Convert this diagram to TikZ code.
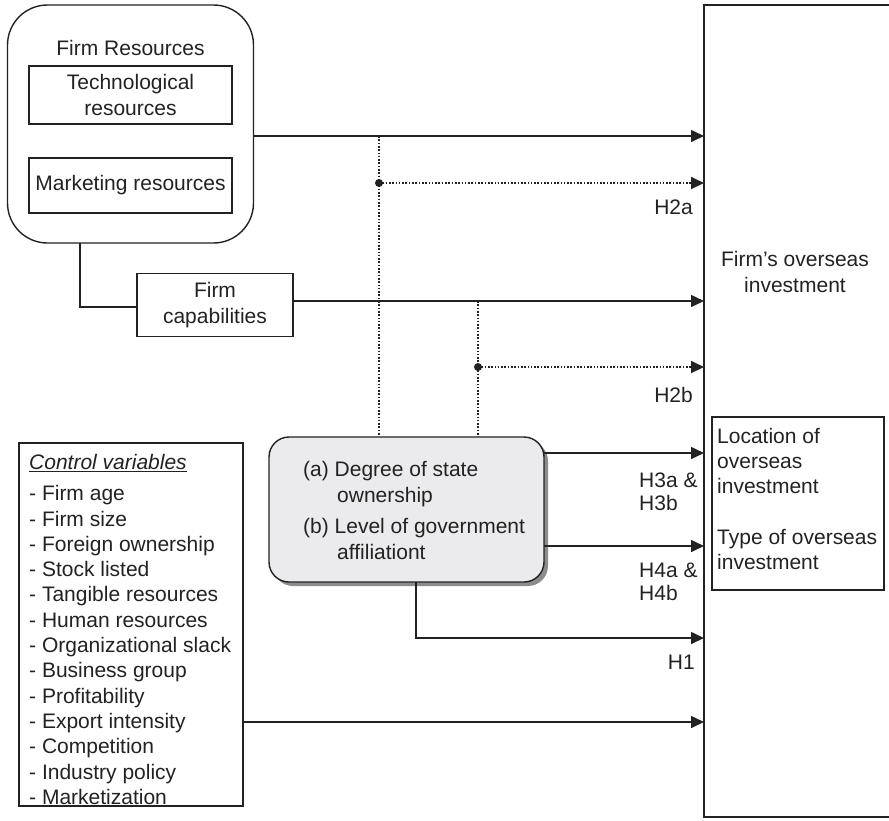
\documentclass[tikz,border=0pt]{standalone}
\usepackage{fontspec}
\setmainfont{Liberation Sans}
\usetikzlibrary{arrows.meta}
\definecolor{ink}{HTML}{222222}
\definecolor{govfill}{HTML}{EBEBED}
\definecolor{shadowc}{HTML}{8C8C8C}
\begin{document}
\begin{tikzpicture}[x=1pt,y=-1pt,
  ln/.style={line width=1.6pt, draw=ink},
  arr/.style={ln, -{Triangle[length=13pt,width=12pt]}},
  dotl/.style={line width=1.7pt, draw=ink, dash pattern=on 1.6pt off 1.7pt},
  dotarr/.style={dotl, -{Triangle[length=13pt,width=12pt]}},
  box/.style={draw=ink, line width=1.4pt, inner sep=0pt},
  txt/.style={font=\fontsize{21}{25.3}\selectfont, text=ink, inner sep=0pt},
  lbl/.style={font=\fontsize{21}{23}\selectfont, text=ink, inner sep=0pt, align=left}
]
\useasboundingbox (0,0) rectangle (889,820);

% Firm resources group
\node[box, rounded corners=40pt, minimum width=246pt, minimum height=238pt] (fr) at (130.5,124) {};
\node[txt] (frt) at (130.5,48) {Firm Resources};
\node[box, txt, align=center, minimum width=203pt, minimum height=58pt] (tech) at (130.5,95) {Technological\\resources};
\node[box, txt, minimum width=203pt, minimum height=55pt] (mkt) at (130.5,185.5) {Marketing resources};

% Firm capabilities
\node[box, txt, align=center, minimum width=156pt, minimum height=63pt] (cap) at (215,305) {Firm\\capabilities};

% Right (outcome) box, open to the right
\draw[ln] (889,5) -| (704,817) -- (889,817);
\coordinate (inv) at (704,411);
\node[txt, align=center] (fot) at (795,272) {Firm’s overseas\\investment};

% Location / type box
\node[box, minimum width=172pt, minimum height=173pt] (loc) at (798,503.5) {};
\node[txt, align=left, anchor=west] (loct) at (717,499) {Location of\\overseas\\investment\\[25.3pt]Type of overseas\\investment};

% Government box with shadow
\node[fill=shadowc, rounded corners=20pt, minimum width=275pt, minimum height=145pt, inner sep=0pt] (govsh) at (410.5,513.5) {};
\node[box, fill=govfill, rounded corners=20pt, minimum width=275pt, minimum height=145pt] (gov) at (406.5,509.5) {};
\node[txt, align=left, anchor=west] (govt) at (303,510.5) {(a) Degree of state\\\hspace*{34pt}ownership\\[6.5pt](b) Level of government\\\hspace*{34pt}affiliationt};

% Control variables
\node[box, minimum width=224pt, minimum height=363pt] (ctrl) at (131,624.5) {};
\node[txt, anchor=west] (ctrlt) at (29,463) {\underline{\textit{Control variables}}};
\node[txt, align=left, anchor=west] (ctrll) at (29,645) {- Firm age\\- Firm size\\- Foreign ownership\\- Stock listed\\- Tangible resources\\- Human resources\\- Organizational slack\\- Business group\\- Profitability\\- Export intensity\\- Competition\\- Industry policy\\- Marketization};

% Connectors
\coordinate (frOut) at (254,136);
\draw[arr] (frOut) -- (frOut -| inv);
\coordinate (frDown) at (80,243);
\draw[ln] (frDown) |- ([yshift=-2pt]cap.west);
\draw[arr] ([yshift=4pt]cap.east) -- ([yshift=4pt]cap.east -| inv);

% Dotted moderating paths
\coordinate (d1top) at (379,136);
\coordinate (d1) at (379,183);
\draw[dotl] (d1top) -- (d1top |- gov.north);
\fill[ink] (d1) circle (4pt);
\draw[dotarr] (d1) -- (d1 -| inv);
\node[lbl, anchor=east] (h2a) at (693,207) {H2a};

\coordinate (d2top) at (478,301);
\coordinate (d2) at (478,367);
\draw[dotl] (d2top) -- (d2top |- gov.north);
\fill[ink] (d2) circle (4pt);
\draw[dotarr] (d2) -- (d2 -| inv);
\node[lbl, anchor=east] (h2b) at (693,395) {H2b};

% Government outputs
\coordinate (g3) at (544,453);
\coordinate (g4) at (544,546);
\draw[arr] (g3) -- (g3 -| inv);
\draw[arr] (g4) -- (g4 -| inv);
\node[lbl, anchor=west] (h3) at (639,491.5) {H3a \&\\H3b};
\node[lbl, anchor=west] (h4) at (639,581.5) {H4a \&\\H4b};

\coordinate (g1) at (416,582);
\coordinate (h1end) at (704,638);
\draw[arr] (g1) |- (h1end);
\node[lbl, anchor=east] (h1) at (695,662) {H1};

% Control output
\coordinate (cOut) at (243,722);
\draw[arr] (cOut) -- (cOut -| inv);
\end{tikzpicture}
\end{document}
